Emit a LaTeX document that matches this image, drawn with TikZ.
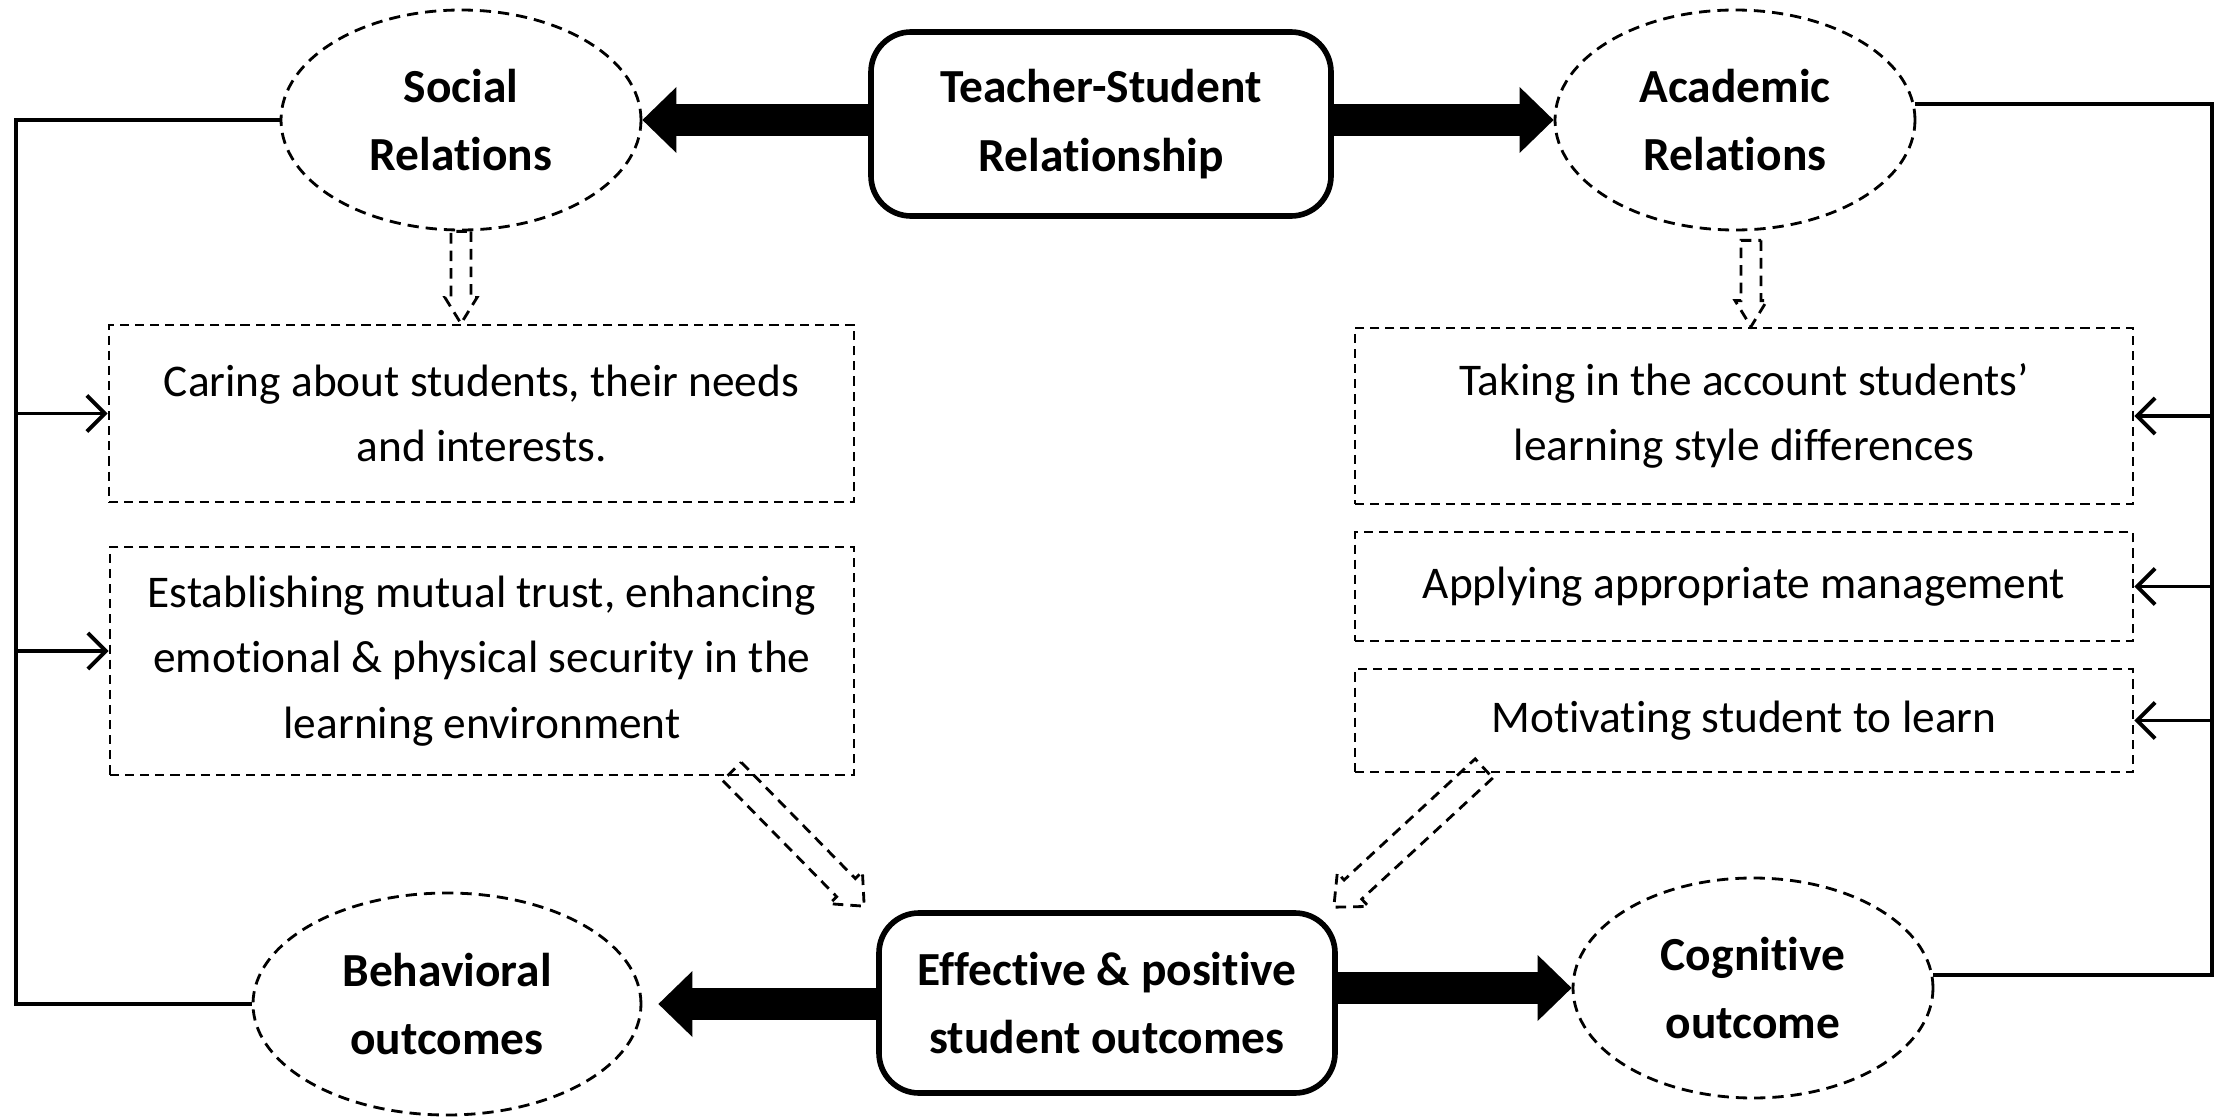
\documentclass[tikz,border=0pt]{standalone}
\usepackage{fontspec}
\setmainfont{Carlito}[Ligatures={NoCommon}]
\usepackage{tikz}
\usetikzlibrary{shapes.geometric,arrows.meta,positioning,calc}
\newcommand{\tsbold}{\fontsize{13.5}{19.5}\selectfont\bfseries}
\newcommand{\tsplain}{\fontsize{12.9}{18.6}\selectfont}
% hollow dashed arrow: from, to, half shaft, half head
\newcommand{\hollowarrow}[4]{%
  \coordinate (ha) at ($(#2)!2.6mm!(#1)$);
  \draw[hollowarr] ($(#1)!#3!90:(#2)$) -- ($(ha)!#3!-90:(#1)$) -- ($(ha)!#4!-90:(#1)$)
    -- (#2) -- ($(ha)!#4!90:(#1)$) -- ($(ha)!#3!90:(#1)$) -- ($(#1)!#3!-90:(#2)$) -- cycle;}

\begin{document}
\begin{tikzpicture}[
  ellip/.style={ellipse, draw, dash pattern=on 3.2pt off 2pt, line width=0.8pt,
    minimum width=3.6cm, minimum height=2.2cm, inner sep=0pt, align=center, font=\tsbold},
  mainbox/.style={draw, rounded corners=0.4cm, line width=1.6pt, minimum width=4.6cm,
    minimum height=1.84cm, align=center, font=\tsbold},
  dbox/.style={draw, dash pattern=on 2.6pt off 1.7pt, line width=0.8pt, minimum width=7.78cm,
    inner sep=0pt, align=center, font=\tsplain},
  bigarr/.style={-{Triangle[length=3.4mm,width=6.6mm,line width=0pt]}, line width=3.2mm},
  fb/.style={line width=1.1pt},
  fbarr/.style={fb, -{Straight Barb[length=1.8mm,width=3.6mm]}},
  hollowarr/.style={dash pattern=on 3pt off 2pt, line width=0.8pt, line join=miter}]
  \useasboundingbox (0,0) rectangle (22.16,11.16);
  % top row
  \node[ellip] (social) at (4.61,9.96) {Social\\Relations};
  \node[mainbox] (teacher) at (11.01,9.92) {Teacher-Student\\Relationship};
  \node[ellip] (academic) at (17.35,9.96) {Academic\\Relations};
  \draw[bigarr] (teacher.west |- social.east) -- (social.east);
  \draw[bigarr] (teacher.east |- academic.west) -- (academic.west);
  % social side
  \node[dbox, minimum width=7.45cm, minimum height=1.77cm] (caring) at (4.815,7.025)
    {Caring about students, their needs\\and interests.};
  \node[dbox, minimum width=7.44cm, minimum height=2.28cm] (estab) at (4.82,4.55)
    {Establishing mutual trust, enhancing\\emotional \& physical security in the\\learning environment};
  % academic side
  \node[dbox, minimum height=1.76cm] (taking) at (17.44,7.00)
    {Taking in the account students’\\learning style differences};
  \node[dbox, minimum height=1.09cm] (applying) at (17.44,5.295) {Applying appropriate management};
  \node[dbox, minimum height=1.03cm] (motiv) at (17.44,3.955) {Motivating student to learn};
  % bottom row
  \node[ellip, minimum width=3.88cm, minimum height=2.22cm] (behav) at (4.47,1.12) {Behavioral\\outcomes};
  \node[mainbox, minimum width=4.56cm, minimum height=1.80cm] (effect) at (11.07,1.13)
    {Effective \& positive\\student outcomes};
  \node[ellip] (cognit) at (17.53,1.28) {Cognitive\\outcome};
  \draw[bigarr, shorten >=1.6mm] (effect.west |- behav.east) -- (behav.east);
  \draw[bigarr] (effect.east |- cognit.west) -- (cognit.west);
  % hollow arrows
  \coordinate (s1) at (social.south |- caring.north);
  \hollowarrow{social.south}{s1}{1mm}{1.6mm}
  \coordinate (a0) at ($(academic.south)+(0.16,-0.09)$);
  \coordinate (a1) at (a0 |- taking.north);
  \hollowarrow{a0}{a1}{1mm}{1.6mm}
  \coordinate (d1) at ($(estab.south)+(2.5,0.05)$);
  \coordinate (d2) at ($(effect.north west)+(-0.12,0.04)$);
  \hollowarrow{d1}{d2}{1.3mm}{2.3mm}
  \coordinate (d3) at ($(motiv.south)+(-2.6,0.05)$);
  \coordinate (d4) at ($(effect.north east)+(-0.04,0.03)$);
  \hollowarrow{d3}{d4}{1.3mm}{2.3mm}
  % feedback lines
  \coordinate (lx) at (0.16,0);
  \coordinate (rx) at (22.12,0);
  \draw[fb] (social.west) -- (lx |- social.west) -- (lx |- behav.west) -- (behav.west);
  \draw[fbarr] (lx |- caring.west) -- (caring.west);
  \draw[fbarr] ($(lx |- estab.west)+(0,0.1)$) -- ($(estab.west)+(0,0.1)$);
  \draw[fb] (academic.5) -- (rx |- academic.5) -- (rx |- cognit.4) -- (cognit.4);
  \draw[fbarr] (rx |- taking.east) -- (taking.east);
  \draw[fbarr] (rx |- applying.east) -- (applying.east);
  \draw[fbarr] (rx |- motiv.east) -- (motiv.east);
\end{tikzpicture}
\end{document}
